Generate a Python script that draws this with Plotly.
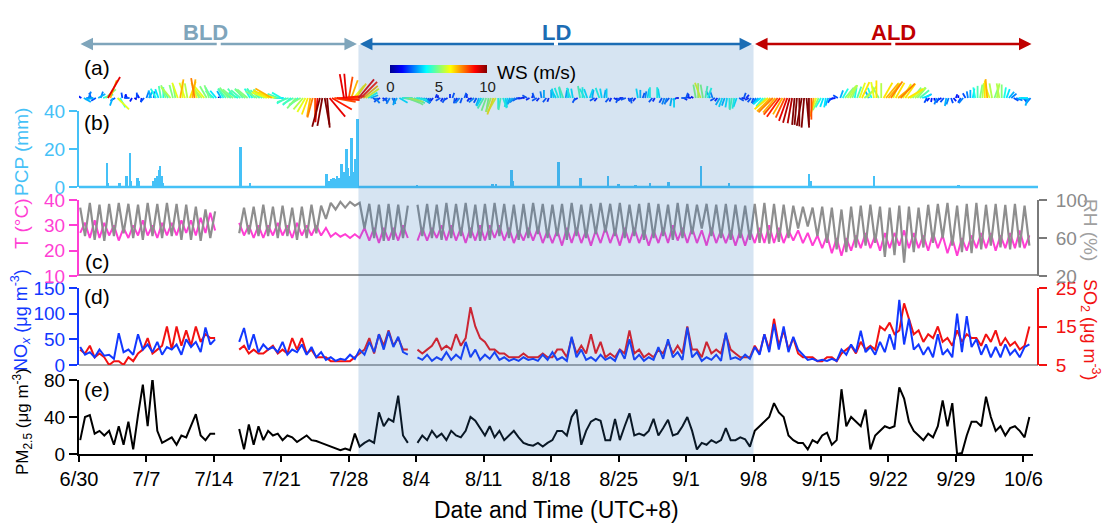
import math
import datetime as dt
import plotly.graph_objects as go

W, H = 1103, 524
FONT = "Liberation Sans, Arial, Helvetica, sans-serif"

# ---------------- data ----------------
x_start = dt.datetime(2020, 6, 30, 0)
x_end = dt.datetime(2020, 10, 7, 0)
sample_start = dt.datetime(2020, 6, 30, 3)   # half-daily samples (03:00, 15:00)
wind_start = dt.datetime(2020, 6, 30, 0)     # 6-hourly wind samples

tick_dates = ["2020-06-30", "2020-07-07", "2020-07-14", "2020-07-21", "2020-07-28",
              "2020-08-04", "2020-08-11", "2020-08-18", "2020-08-25", "2020-09-01",
              "2020-09-08", "2020-09-15", "2020-09-22", "2020-09-29", "2020-10-06"]
tick_labels = ["6/30", "7/7", "7/14", "7/21", "7/28", "8/4", "8/11", "8/18", "8/25",
               "9/1", "9/8", "9/15", "9/22", "9/29", "10/6"]

period_labels = ["BLD", "LD", "ALD"]
period_start = ["2020-06-30", "2020-07-29", "2020-09-08"]
period_end = ["2020-07-29", "2020-09-08", "2020-10-07"]

ws_ticks = [0, 5, 10]

# temperature (deg C)
t_c = [
    27, 31, 25, 32, 25, 31, 26, 30, 24, 29, 25, 30, 26, 32,
    26, 30, 25, 31, 26, 31, 26, 32, 27, 32, 26, 33, 27, 35,
    28, None, None, None, None, 31, 26, 30, 25, 30, 25, 30, 26, 31,
    26, 30, 25, 31, 26, 30, 26, 30, 26, 29, 25.5, 27, 25.5, 26.5,
    25, 26.5, 25, 29, 24, 29, 23, 29, 24, 29, 24, 30, 25, None,
    24, 29, 24, 29, 25, 30, 24, 30, 24, 29, 23, 29, 24, 30,
    24, 30, 25, 30, 24, 29, 23, 28, 24, 29, 24, 29, 23, 28,
    23, 28, 22, 29, 23, 29, 23, 28, 22, 28, 23, 29, 23, 28,
    22, 29, 23, 29, 23, 28, 22, 28, 23, 29, 23, 30, 24, 29,
    23, 29, 23, 28, 22, 29, 23, 28, 23, 28, 22, 28, 22, 28,
    23, 29, 23, 30, 23, 29, 23, 28, 24, 28, 23, 27, 22, 26,
    21, 26, 19, 25, 18, 25, 20, 26, 21, 27, 21, 26, 20, 27,
    21, 27, 22, 28, 21, 27, 21, 26, 20, 27, 21, 26, 19, 25,
    18, 25, 20, 26, 21, 27, 21, 27, 20, 26, 21, 27, 21, 28,
    21, 26]

# relative humidity (%)
rh = [
    92, 62, 97, 58, 95, 57, 96, 62, 97, 65, 96, 60, 95, 58,
    97, 62, 96, 60, 97, 62, 96, 58, 95, 58, 93, 57, 90, 60,
    88, None, None, None, None, 65, 92, 64, 93, 62, 95, 62, 93, 60,
    94, 62, 92, 58, 93, 60, 95, 65, 94, 80, 97, 90, 98, 92,
    98, 94, 97, 70, 96, 60, 95, 57, 96, 58, 95, 60, 94, None,
    95, 62, 96, 60, 95, 58, 97, 60, 96, 62, 97, 60, 95, 57,
    96, 58, 97, 62, 96, 60, 95, 58, 96, 60, 97, 64, 96, 60,
    95, 62, 96, 58, 97, 62, 95, 60, 96, 64, 97, 66, 96, 62,
    97, 60, 95, 62, 96, 58, 97, 60, 96, 62, 95, 58, 97, 60,
    96, 64, 95, 70, 96, 62, 95, 60, 96, 58, 95, 60, 94, 58,
    96, 55, 97, 54, 96, 56, 95, 60, 94, 70, 93, 72, 92, 62,
    93, 55, 92, 48, 90, 45, 93, 50, 94, 52, 95, 55, 93, 40,
    92, 42, 94, 34, 93, 45, 92, 50, 95, 55, 96, 60, 97, 52,
    94, 45, 96, 44, 97, 48, 95, 52, 96, 50, 95, 48, 96, 50,
    94, 52]

# NOx (ug m-3)
nox = [
    35, 20, 25, 15, 30, 18, 20, 12, 62, 25, 30, 20, 60, 30,
    40, 25, 45, 20, 35, 30, 40, 20, 50, 35, 45, 25, 73, 40,
    50, None, None, None, None, 45, 72, 30, 60, 25, 40, 30, 35, 25,
    45, 20, 30, 25, 40, 20, 35, 15, 25, 10, 15, 8, 12, 10,
    20, 12, 30, 20, 45, 25, 60, 30, 65, 35, 55, 25, 20, None,
    15, 10, 20, 8, 15, 10, 25, 10, 20, 12, 45, 15, 30, 10,
    20, 12, 25, 10, 15, 8, 12, 8, 15, 10, 12, 8, 20, 10,
    25, 10, 15, 8, 55, 15, 30, 10, 15, 8, 20, 10, 15, 8,
    30, 12, 50, 10, 20, 8, 15, 10, 35, 12, 50, 15, 25, 10,
    73, 15, 25, 8, 15, 10, 20, 8, 63, 12, 15, 10, 20, 12,
    35, 20, 60, 25, 80, 30, 75, 25, 55, 30, 20, 10, 12, 8,
    10, 8, 12, 8, 30, 20, 40, 25, 67, 25, 35, 20, 45, 25,
    60, 30, 127, 40, 90, 30, 40, 20, 35, 15, 60, 20, 30, 15,
    100, 25, 95, 35, 50, 20, 40, 15, 35, 15, 40, 20, 30, 15,
    35, 40]

# SO2 (ug m-3)
so2 = [
    9, 8, 10, 7, 8, 7, 5, 6, 6, 5, 7, 6, 8, 9,
    12, 8, 9, 10, 15, 9, 15, 10, 14, 10, 15, 11, 13, 12,
    12, None, None, None, None, 9, 10, 8, 9, 8, 8, 9, 10, 8,
    9, 8, 12, 9, 12, 8, 9, 7, 7, 7, 6, 6, 6, 6,
    6, 7, 8, 9, 12, 8, 13, 10, 14, 10, 12, 9, 9, None,
    9, 8, 9, 10, 12, 9, 10, 9, 13, 10, 12, 20, 15, 12,
    11, 9, 9, 8, 8, 7, 7, 7, 8, 7, 7, 7, 8, 7,
    7, 9, 9, 7, 12, 8, 10, 8, 13, 8, 11, 7, 8, 7,
    9, 8, 14, 8, 9, 7, 8, 7, 9, 8, 11, 8, 10, 8,
    15, 9, 9, 7, 11, 8, 9, 8, 13, 9, 8, 7, 7, 7,
    10, 8, 13, 9, 17, 10, 14, 9, 12, 8, 7, 7, 7, 6,
    6, 7, 7, 6, 8, 9, 10, 8, 11, 9, 10, 9, 15, 14,
    16, 13, 14, 21, 17, 13, 14, 11, 13, 12, 15, 11, 12, 10,
    14, 11, 13, 12, 12, 10, 13, 11, 14, 10, 12, 10, 11, 9,
    10, 15]

# PM2.5 (ug m-3)
pm25 = [
    15, 40, 42, 22, 25, 20, 25, 10, 30, 10, 35, 5, 42, 75,
    30, 82, 25, 12, 15, 18, 10, 20, 18, 30, 43, 20, 15, 22,
    22, None, None, None, None, 27, 5, 32, 10, 30, 15, 25, 20, 22,
    15, 20, 18, 13, 17, 20, 15, 14, 12, 10, 8, 6, 4, 6,
    4, 22, 8, 12, 15, 12, 45, 30, 38, 35, 63, 20, 12, None,
    12, 20, 15, 25, 18, 22, 15, 25, 20, 18, 25, 40, 36, 28,
    20, 30, 18, 25, 15, 20, 25, 18, 12, 10, 9, 12, 8, 12,
    15, 25, 25, 20, 40, 48, 10, 25, 35, 38, 36, 15, 15, 38,
    15, 30, 44, 20, 22, 20, 25, 38, 20, 28, 37, 20, 22, 30,
    40, 25, 5, 12, 10, 15, 12, 15, 28, 15, 15, 18, 16, 8,
    25, 30, 35, 40, 55, 45, 40, 20, 15, 12, 12, 5, 15, 12,
    20, 23, 10, 15, 70, 30, 40, 35, 30, 48, 5, 20, 25, 30,
    28, 30, 72, 60, 35, 25, 20, 15, 22, 18, 30, 58, 30, 55,
    0, 1, 20, 35, 35, 30, 62, 40, 25, 30, 20, 28, 30, 25,
    18, 40]

# wind speed (m/s), 6-hourly
ws = [
    2, 1.5, 3, 2.5, 2.5, 2, 3, 2,
    3, 2.5, 4, 5, 9, 7, 3, 2,
    6, 4, 2, 1.5, 1.5, 2, 1.5, 1,
    2, 1.5, 1.5, 2, 2.5, 3, 3, 2.5,
    4, 3.5, 4.5, 4, 5, 4.5, 5.5, 5,
    5, 6, 7, 6, 6, 5.5, 6.5, 7,
    7.5, 6, 5, 5.5, 6, 5, 5, 4.5,
    4, 3.5, 0.5, 3, 4, 4.5, 5, 4.5,
    5, 4.5, 4, 4.5, 4.5, 5, 5, 4,
    4, 4.5, 5, 4.5, 4.5, 5, 6, 6.5,
    7, 6, 5, 4.5, 4, 3.5, 4, 4.5,
    4, 4.5, 5, 4, 5, 5.5, 6, 6.5,
    7, 7.5, 8, 9, 11, 10.5, 10, 11,
    9, 8.5, 8, 8.5, 8, 8.5, 9, 9,
    8, 7, 6, 6.5, 9, 8.5, 7, 6,
    4, 3, 2, 2.5, 2, 1.5, 1.5, 2,
    2, 2.5, 2.5, 2, 3, 3.5, 4, 4.5,
    5, 5.5, 5, 4.5, 4, 3.5, 3, 3,
    2.5, 2, 2, 1.5, 1.5, 1, 2, 1.5,
    2, 1.5, 1.5, 2, 2, 1.5, 2.5, 2,
    2, 1.5, 1.5, 1, 2.5, 2, 3, 3.5,
    4.5, 5, 5, 5.5, 6.5, 6, 4, 4.5,
    4, 3.5, 3.5, 3, 3, 2.5, 2, 1.5,
    1.5, 1, 2, 1.5, 1.5, 2, 2, 1.5,
    2.5, 3, 2, 1.5, 3, 3.5, 3.5, 4,
    4, 4.5, 3, 3.5, 4, 3.5, 2, 1.5,
    4.5, 4, 4, 3.5, 3.5, 3, 2, 1.5,
    4, 3.5, 3, 3.5, 2, 1.5, 1.5, 1,
    2, 1.5, 1.5, 2, 1.5, 2, 2, 1.5,
    3.5, 3, 2, 2.5, 3.5, 4, 2, 1.5,
    4, 3.5, 2, 2.5, 2.5, 2, 3, 3.5,
    1.5, 1, 2, 1.5, 2, 1.5, 1.5, 1,
    5, 5.5, 6, 5, 4.5, 4, 3, 2.5,
    2, 1.5, 3, 3.5, 3, 3.5, 4, 4.5,
    4, 3.5, 2, 1.5, 2, 1.5, 1.5, 2,
    2, 2.5, 3, 3.5, 4, 5, 6.5, 7,
    7.5, 7, 8, 8.5, 7, 8, 9, 9.5,
    9.5, 10, 10, 10.5, 10.5, 11, 11, 10,
    8, 7, 6, 5, 4, 3.5, 3.5, 3,
    2, 1.5, 1.5, 2, 3, 4, 5, 5.5,
    5.5, 5, 4, 4.5, 6, 6.5, 5, 5.5,
    3, 4, 6, 6.5, 5, 5.5, 6.5, 7,
    7, 7.5, 6, 6.5, 7, 7.5, 6, 6.5,
    6.5, 6, 5, 5.5, 5, 4.5, 3.5, 3,
    2, 1.5, 1.5, 1, 2.5, 2, 1.5, 2,
    3, 2.5, 2, 1.5, 1.5, 1, 2, 2.5,
    2, 2.5, 3, 3.5, 4, 4.5, 5, 5.5,
    6.5, 7, 6, 5.5, 5, 5.5, 5.5, 5,
    4, 3.5, 3, 2.5, 2, 2.5, 3.5, 3,
    2, 1.5, 3, 2.5]

# wind direction (deg, blowing from), 6-hourly
wd = [
    90, 120, 300, 270, 200, 160, 80, 60,
    240, 200, 250, 230, 210, 200, 20, 60,
    315, 330, 170, 200, 150, 90, 30, 300,
    180, 150, 10, 40, 200, 210, 160, 190,
    150, 160, 170, 180, 160, 150, 140, 165,
    170, 160, 190, 180, 160, 170, 200, 190,
    170, 160, 150, 140, 140, 150, 160, 150,
    130, 140, 180, 150, 150, 140, 140, 130,
    130, 140, 120, 130, 140, 130, 130, 150,
    150, 140, 120, 130, 135, 125, 110, 115,
    120, 110, 100, 110, 120, 90, 60, 70,
    50, 60, 40, 50, 60, 40, 30, 20,
    10, 15, 0, 5, 15, 10, 350, 355,
    320, 300, 280, 275, 270, 265, 170, 175,
    190, 200, 220, 215, 220, 225, 230, 235,
    240, 250, 300, 320, 40, 60, 300, 330,
    60, 30, 330, 10, 30, 300, 270, 280,
    290, 285, 300, 295, 280, 290, 300, 310,
    320, 340, 20, 40, 200, 180, 60, 30,
    30, 60, 180, 200, 10, 30, 40, 20,
    200, 180, 30, 60, 50, 30, 20, 30,
    30, 20, 10, 20, 20, 30, 0, 10,
    340, 350, 20, 30, 40, 50, 60, 80,
    80, 100, 120, 60, 200, 160, 60, 40,
    170, 180, 40, 20, 180, 170, 150, 160,
    170, 160, 190, 180, 160, 170, 30, 60,
    170, 180, 150, 160, 200, 190, 60, 40,
    160, 170, 190, 180, 40, 30, 300, 320,
    30, 50, 90, 70, 330, 350, 60, 40,
    170, 180, 200, 190, 190, 180, 40, 30,
    180, 170, 30, 20, 20, 40, 10, 0,
    60, 90, 270, 300, 200, 180, 100, 120,
    170, 180, 160, 170, 190, 200, 150, 160,
    60, 40, 30, 20, 20, 10, 0, 10,
    10, 20, 300, 280, 200, 220, 60, 40,
    20, 30, 40, 50, 40, 45, 50, 45,
    45, 40, 40, 35, 30, 25, 20, 15,
    10, 5, 5, 0, 10, 5, 355, 0,
    0, 10, 20, 25, 30, 20, 10, 20,
    30, 60, 80, 120, 200, 210, 220, 215,
    210, 200, 190, 200, 200, 205, 230, 220,
    150, 160, 170, 180, 150, 180, 210, 220,
    220, 215, 200, 210, 230, 225, 210, 215,
    240, 235, 220, 225, 220, 230, 250, 240,
    30, 40, 10, 350, 20, 30, 60, 40,
    10, 20, 340, 320, 200, 180, 30, 40,
    150, 170, 180, 190, 170, 180, 190, 185,
    180, 175, 160, 170, 200, 190, 170, 180,
    190, 200, 220, 230, 300, 290, 270, 280,
    320, 340, 20, 40]

# precipitation events
pcp_time = [
    "2020-07-02 22:00", "2020-07-02 23:00", "2020-07-03 01:00", "2020-07-04 05:00",
    "2020-07-04 23:00", "2020-07-05 07:00", "2020-07-05 10:00", "2020-07-06 02:00",
    "2020-07-06 06:00", "2020-07-07 17:00", "2020-07-07 22:00", "2020-07-08 04:00",
    "2020-07-08 08:00", "2020-07-08 11:00", "2020-07-08 14:00", "2020-07-08 18:00",
    "2020-07-10 00:00", "2020-07-16 19:00", "2020-07-17 19:00", "2020-07-25 17:00",
    "2020-07-26 00:00", "2020-07-26 05:00", "2020-07-26 10:00", "2020-07-26 14:00",
    "2020-07-26 19:00", "2020-07-27 00:00", "2020-07-27 06:00", "2020-07-27 12:00",
    "2020-07-27 19:00", "2020-07-27 22:00", "2020-07-28 02:00", "2020-07-28 07:00",
    "2020-07-28 12:00", "2020-07-28 17:00", "2020-07-28 22:00", "2020-08-04 02:00",
    "2020-08-11 22:00", "2020-08-12 07:00", "2020-08-13 22:00", "2020-08-14 00:00",
    "2020-08-18 19:00", "2020-08-21 02:00", "2020-08-23 22:00", "2020-08-25 00:00",
    "2020-08-26 19:00", "2020-08-28 07:00", "2020-08-30 05:00", "2020-09-02 14:00",
    "2020-09-05 12:00", "2020-09-09 12:00", "2020-09-13 19:00", "2020-09-13 23:00",
    "2020-09-20 12:00", "2020-09-29 07:00", "2020-09-29 14:00"]
pcp_mm = [
    3, 12.5, 2, 2,
    6, 18, 3, 5,
    3, 3, 5, 6,
    9, 11, 6, 2,
    0.5, 21, 2, 7,
    3, 4, 5, 4,
    6, 5, 12, 8,
    20, 10, 6, 26,
    8, 15, 36, 1,
    1.5, 1.5, 9, 3,
    13, 5, 6, 1.5,
    1, 2, 2.5, 11,
    2, 0.5, 7, 3,
    6, 1, 0.5]

n = len(t_c)
for arr in (rh, nox, so2, pm25):
    assert len(arr) == n, len(arr)
assert len(ws) == len(wd), (len(ws), len(wd))
assert len(pcp_time) == len(pcp_mm)
times = [sample_start + dt.timedelta(hours=12 * i) for i in range(n)]
wind_times = [wind_start + dt.timedelta(hours=6 * i) for i in range(len(ws))]

# ---------------- geometry ----------------
X0, X1 = 79, 1033          # plot area in px
RX = 1038                  # right axes position
DAYS = (x_end - x_start).total_seconds() / 86400
PX_PER_DAY = (X1 - X0) / DAYS


def px_x(x):
    return x / W


def px_y(y):
    return 1 - y / H


def ydom(top, bot):
    return [px_y(bot), px_y(top)]


def date_px(s):
    d = dt.datetime.fromisoformat(s)
    return X0 + (d - x_start).total_seconds() / 86400 * PX_PER_DAY


C_PCP = "#45c1f7"
C_T = "#ff3fd4"
C_RH = "#8e8e8e"
C_NOX = "#1238ff"
C_SO2 = "#f21212"
C_PERIOD = ["#7fa5bb", "#1c6db4", "#c00000"]

jet_stops = [(0.0, (0, 0, 143)), (0.125, (0, 0, 255)), (0.375, (0, 255, 255)),
             (0.625, (255, 255, 0)), (0.875, (255, 0, 0)), (1.0, (128, 0, 0))]


def jet(f):
    f = max(0.0, min(1.0, f))
    for (a, ca), (b, cb) in zip(jet_stops[:-1], jet_stops[1:]):
        if f <= b:
            w = (f - a) / (b - a)
            c = [round(ca[k] + (cb[k] - ca[k]) * w) for k in range(3)]
            return "rgb(%d,%d,%d)" % tuple(c)
    return "rgb(128,0,0)"


jet_scale = [[s, "rgb(%d,%d,%d)" % c] for s, c in jet_stops]

fig = go.Figure()

# (b) precipitation
fig.add_trace(go.Bar(x=pcp_time, y=pcp_mm, width=0.2 * 86400000,
                     marker=dict(color=C_PCP, line=dict(width=0)),
                     xaxis="x4", yaxis="y6", showlegend=False, hoverinfo="skip"))

# (c) T and RH
fig.add_trace(go.Scatter(x=times, y=t_c, mode="lines", line=dict(color=C_T, width=2),
                         xaxis="x3", yaxis="y4", showlegend=False))
fig.add_trace(go.Scatter(x=times, y=rh, mode="lines", line=dict(color=C_RH, width=2.2),
                         xaxis="x3", yaxis="y5", showlegend=False))

# (d) SO2 (base, right) and NOx (overlay, left)
fig.add_trace(go.Scatter(x=times, y=so2, mode="lines", line=dict(color=C_SO2, width=2),
                         xaxis="x2", yaxis="y2", showlegend=False))
fig.add_trace(go.Scatter(x=times, y=nox, mode="lines", line=dict(color=C_NOX, width=2),
                         xaxis="x2", yaxis="y3", showlegend=False))

# (e) PM2.5
fig.add_trace(go.Scatter(x=times, y=pm25, mode="lines", line=dict(color="black", width=2),
                         xaxis="x", yaxis="y", showlegend=False))

# (a) wind sticks
STICK_PX = 2.7                     # px per m/s
R_WIND = 76 / (2 * STICK_PX)
day_per_ms = STICK_PX / PX_PER_DAY
bins = {}
for t, s, d in zip(wind_times, ws, wd):
    u = -s * math.sin(math.radians(d))
    v = -s * math.cos(math.radians(d))
    key = round(min(s, 10) * 2) / 2
    xs, ys = bins.setdefault(key, ([], []))
    xs += [t, t + dt.timedelta(days=u * day_per_ms), None]
    ys += [0, v, None]
for key in sorted(bins):
    xs, ys = bins[key]
    fig.add_trace(go.Scatter(x=xs, y=ys, mode="lines", line=dict(color=jet(key / 10), width=1.8),
                             xaxis="x5", yaxis="y7", showlegend=False, hoverinfo="skip"))

# colorbar for WS
fig.add_trace(go.Scatter(
    x=[wind_times[0]], y=[0], mode="markers", xaxis="x5", yaxis="y7", showlegend=False,
    hoverinfo="skip",
    marker=dict(size=1, opacity=0, color=[0], cmin=0, cmax=10, colorscale=jet_scale,
                showscale=True,
                colorbar=dict(orientation="h", x=px_x(439), xanchor="center",
                              y=px_y(65), yanchor="top", len=97, lenmode="pixels",
                              thickness=8, thicknessmode="pixels", outlinewidth=0,
                              tickvals=ws_ticks, ticks="", tickangle=0, xpad=0, ypad=0,
                              ticklabelposition="outside bottom",
                              tickfont=dict(size=15, color="#222", family=FONT)))))

# ---------------- axes ----------------
xdom = [px_x(X0), px_x(X1)]
common_x = dict(domain=xdom, range=[x_start, x_end], type="date", showgrid=False,
                zeroline=False, automargin=False)


def yax(dom, rng, tickvals, color, **kw):
    d = dict(domain=dom, range=rng, tickvals=tickvals, showline=True, linecolor=color,
             linewidth=2, ticks="outside", ticklen=8, tickwidth=2, tickcolor=color,
             tickfont=dict(size=19, color=color, family=FONT), showgrid=False, zeroline=False,
             automargin=False)
    d.update(kw)
    return d


dom_e = ydom(380, 454)
dom_d = ydom(288, 365)
dom_c = ydom(200, 276)
dom_b = ydom(111, 187)
dom_a = ydom(60, 136)

layout = dict(
    template="none",
    width=W, height=H, autosize=False,
    margin=dict(l=0, r=0, t=0, b=0, pad=0, autoexpand=False),
    paper_bgcolor="white", plot_bgcolor="rgba(0,0,0,0)",
    font=dict(family=FONT, color="black"),
    showlegend=False, bargap=0,
    xaxis=dict(**common_x, anchor="y", showline=True, linecolor="black", linewidth=2,
               ticks="outside", ticklen=6, tickwidth=2, tickcolor="black",
               tickvals=tick_dates, ticktext=tick_labels,
               tickfont=dict(size=20, color="black", family=FONT)),
    xaxis2=dict(**common_x, anchor="y2", matches="x", visible=False),
    xaxis3=dict(**common_x, anchor="y4", matches="x", visible=False),
    xaxis4=dict(**common_x, anchor="y6", matches="x", visible=False),
    xaxis5=dict(**common_x, anchor="y7", matches="x", visible=False),
    yaxis=yax(dom_e, [0, 80], [0, 40, 80], "black", anchor="x"),
    yaxis2=yax(dom_d, [5, 25], [5, 15, 25], C_SO2, side="right", anchor="free",
               position=px_x(RX), ticklabelstandoff=5),
    yaxis3=yax(dom_d, [0, 150], [0, 50, 100, 150], C_NOX, overlaying="y2", side="left",
               anchor="x2"),
    yaxis4=yax(dom_c, [10, 40], [10, 20, 30, 40], C_T, anchor="x3"),
    yaxis5=yax(dom_c, [20, 100], [20, 60, 100], "#7a7a7a", overlaying="y4", side="right",
               anchor="free", position=px_x(RX), ticklabelstandoff=5,
               tickfont=dict(size=19, color="#8a8a8a", family=FONT)),
    yaxis6=yax(dom_b, [0, 40], [0, 20, 40], C_PCP, anchor="x4"),
    yaxis7=dict(domain=dom_a, range=[-R_WIND, R_WIND], anchor="x5", visible=False,
                automargin=False),
)
fig.update_layout(**layout)

# ---------------- shapes ----------------
shapes = []
for y, col, w in [(187, C_PCP, 2.5), (275, "#6f6f6f", 1.5), (365, "#8a8a8a", 1.5)]:
    shapes.append(dict(type="line", xref="paper", yref="paper", x0=px_x(X0), x1=px_x(RX),
                       y0=px_y(y), y1=px_y(y), line=dict(color=col, width=w), layer="below"))
shapes.append(dict(type="rect", xref="x", yref="paper", x0=period_start[1], x1=period_end[1],
                   y0=px_y(455), y1=px_y(45), fillcolor="rgba(50,120,190,0.2)",
                   line=dict(width=0), layer="above"))
fig.update_layout(shapes=shapes)

# ---------------- annotations ----------------
ann = []


def text(x, y, s, size, color="black", angle=0, bold=False):
    ann.append(dict(x=px_x(x), y=px_y(y), xref="paper", yref="paper",
                    text=("<b>%s</b>" % s) if bold else s,
                    showarrow=False, textangle=angle, xanchor="center", yanchor="middle",
                    font=dict(size=size, color=color, family=FONT)))


label_x = [205, None, None]
for i, lab in enumerate(period_labels):
    l = date_px(period_start[i]) + 1.5
    r = date_px(period_end[i]) - 1.5
    mid = (l + r) / 2
    for head in (l, r):
        ann.append(dict(x=px_x(head), y=px_y(44), xref="paper", yref="paper", text=" ",
                        showarrow=True, ax=mid - head, ay=0, arrowhead=2, arrowsize=1,
                        arrowwidth=2.5, arrowcolor=C_PERIOD[i], standoff=0, startstandoff=0,
                        font=dict(size=2)))
    text(label_x[i] if label_x[i] else mid, 33, lab, 22, C_PERIOD[i], bold=True)

for lab, y in [("(a)", 67), ("(b)", 123), ("(c)", 261), ("(d)", 296), ("(e)", 389)]:
    text(97, y, lab, 21)

text(536, 72, "WS (m/s)", 19)
text(21, 152, "PCP (mm)", 19, C_PCP, -90)
text(21, 224, "T (°C)", 19, C_T, -90)
text(20, 320, "NO<sub><i>x</i></sub> (μg m<sup>-3</sup>)", 18, C_NOX, -90)
text(22, 422, "PM<sub>2.5</sub> (μg m<sup>-3</sup>)", 17, "black", -90)
text(1091, 230, "RH (%)", 19, "#a0a0a0", 90)
text(1091, 330, "SO<sub>2</sub> (μg m<sup>-3</sup>)", 18, C_SO2, 90)
text(556, 510, "Date and Time (UTC+8)", 23)

fig.update_layout(annotations=ann)

fig.write_html("out.html", config={"displayModeBar": False},
               post_script="document.body.style.margin='0';document.body.style.overflow='hidden';")
